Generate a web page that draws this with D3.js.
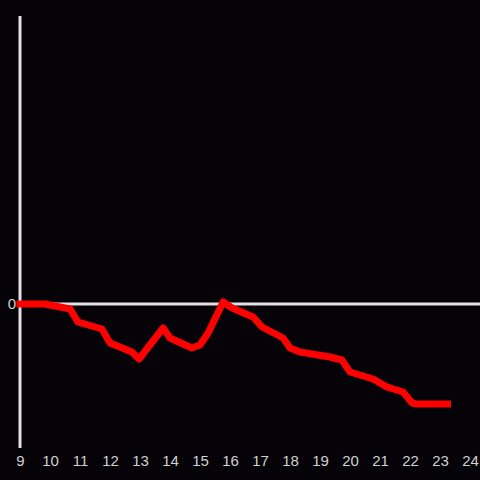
<!DOCTYPE html>
<html><head><meta charset="utf-8">
<script src="https://cdn.jsdelivr.net/npm/d3@7"></script>
<style>html,body{margin:0;padding:0;background:#050307;}</style>
</head><body>
<svg id="chart" width="480" height="480"></svg>
<script>
const hours = [9, 9.83, 10.67, 10.93, 11.73, 12.0, 12.73, 12.97, 13.77, 14.0, 14.73, 15.0, 15.27, 15.77, 16.07, 16.77, 17.07, 17.77, 18.0, 18.33, 19.33, 19.73, 20.0, 20.77, 21.23, 21.77, 22.07, 22.23, 23.25];
const values = [0, 0, -0.5, -1.8, -2.5, -3.9, -4.8, -5.5, -2.4, -3.4, -4.4, -4.1, -2.9, 0.2, -0.4, -1.3, -2.3, -3.4, -4.4, -4.8, -5.3, -5.6, -6.8, -7.5, -8.3, -8.8, -9.9, -10.0, -10.0];
const xTicks = [9,10,11,12,13,14,15,16,17,18,19,20,21,22,23,24];
const yTicks = [0];

const svg = d3.select("#chart");
svg.append("rect").attr("width",480).attr("height",480).attr("fill","#050307");

const x = d3.scaleLinear().domain([9,24]).range([20,470]);
const y = d3.scaleLinear().domain([-14.4, 28.8]).range([448, 16]);

// y axis line
svg.append("line").attr("x1",20).attr("x2",20).attr("y1",16).attr("y2",448)
  .attr("stroke","#e0e0e0").attr("stroke-width",3);
// zero line
svg.append("line").attr("x1",20).attr("x2",480).attr("y1",y(0)).attr("y2",y(0))
  .attr("stroke","#e0e0e0").attr("stroke-width",3);

// x tick labels
const xAxis = d3.axisBottom(x).tickValues(xTicks).tickSize(0).tickPadding(0).tickFormat(d3.format("d"));
const gx = svg.append("g").attr("transform","translate(0,455)").call(xAxis);
gx.select(".domain").remove();
gx.selectAll("text").attr("fill","#d0d0d0").attr("font-size",15).attr("font-family","Liberation Sans, Arial, sans-serif");

// y tick labels
const yAxis = d3.axisLeft(y).tickValues(yTicks).tickSize(0).tickPadding(4);
const gy = svg.append("g").attr("transform","translate(20,0)").call(yAxis);
gy.select(".domain").remove();
gy.selectAll("text").attr("fill","#d0d0d0").attr("font-size",15).attr("font-family","Liberation Sans, Arial, sans-serif");

const data = hours.map((h,i)=>({h, v: values[i]}));
const line = d3.line().x(d=>x(d.h)).y(d=>y(d.v));
svg.append("path").datum(data).attr("d",line).attr("fill","none")
  .attr("stroke","#ff0000").attr("stroke-width",7)
  .attr("stroke-linejoin","round").attr("stroke-linecap","square");
</script>
</body></html>
